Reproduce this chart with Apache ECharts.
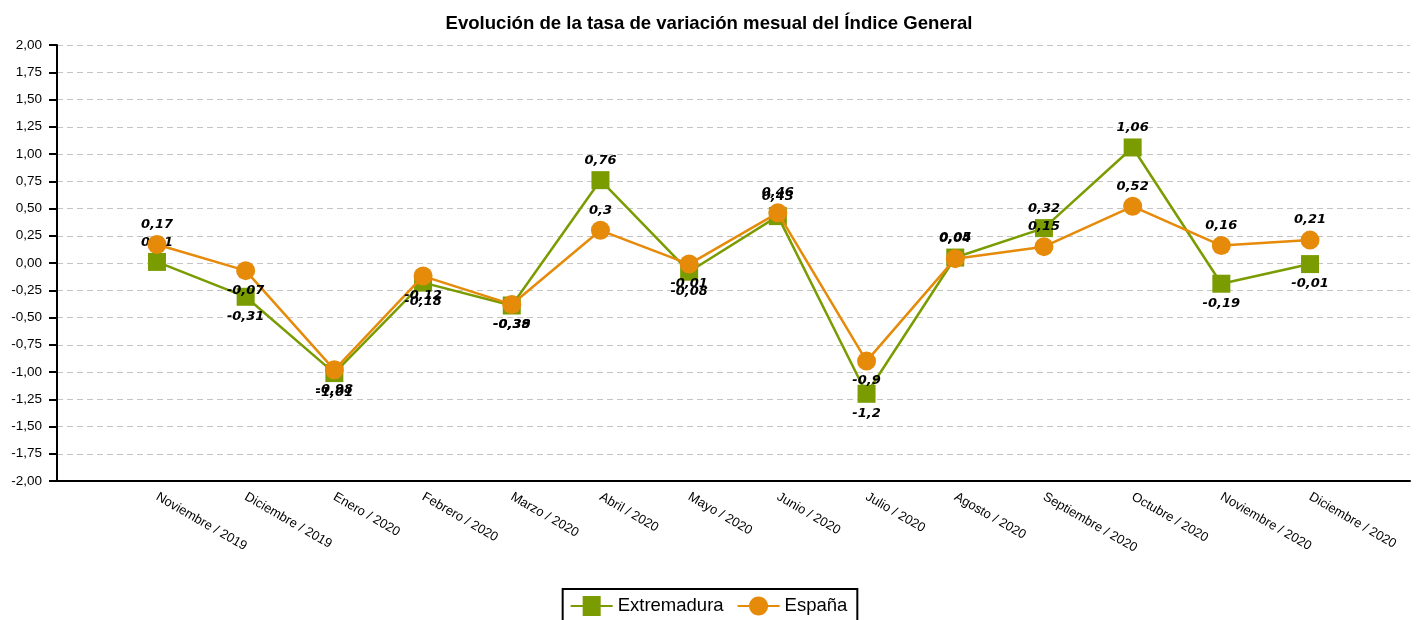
<!DOCTYPE html>
<html><head><meta charset="utf-8">
<script src="https://cdn.jsdelivr.net/npm/echarts@6/dist/echarts.min.js"></script>
<style>html,body{margin:0;padding:0;background:#fff}#c{width:1418px;height:620px}</style>
</head><body><div id="c"></div>
<script>
const categories = ['Noviembre / 2019','Diciembre / 2019','Enero / 2020','Febrero / 2020','Marzo / 2020','Abril / 2020','Mayo / 2020','Junio / 2020','Julio / 2020','Agosto / 2020','Septiembre / 2020','Octubre / 2020','Noviembre / 2020','Diciembre / 2020'];
const extremadura = [0.01,-0.31,-1.01,-0.18,-0.39,0.76,-0.08,0.43,-1.2,0.05,0.32,1.06,-0.19,-0.01];
const espana = [0.17,-0.07,-0.98,-0.12,-0.38,0.3,-0.01,0.46,-0.9,0.04,0.15,0.52,0.16,0.21];
const yTicks = {min:-2, max:2, interval:0.25};

const GREEN = '#7a9c00', ORANGE = '#e68a0a';
const fmt = v => String(v).replace('.', ',');
function build(arr){
  return arr.map((v,i)=>({value:[i,v], label:{position: v>=0?'top':'bottom'}}));
}
const ICON_SQ = 'path://M0,8 L12,8 L12,-1 L30,-1 L30,8 L42,8 L42,10 L30,10 L30,19 L12,19 L12,10 L0,10 Z';
const ICON_CI = 'path://M0,8 L42,8 L42,10 L0,10 Z M21,-0.5 C26.25,-0.5 30.5,3.75 30.5,9 C30.5,14.25 26.25,18.5 21,18.5 C15.75,18.5 11.5,14.25 11.5,9 C11.5,3.75 15.75,-0.5 21,-0.5 Z';
const labelStyle = {show:true, formatter:p=>fmt(p.value[1]), fontFamily:'DejaVu Sans', fontWeight:'bold', fontStyle:'italic', fontSize:13, color:'#000', distance:4};
const chart = echarts.init(document.getElementById('c'));
chart.setOption({
  animation:false,
  title:{text:'Evolución de la tasa de variación mesual del Índice General', left:'center', top:9, textStyle:{fontFamily:'Liberation Sans', fontSize:18.6, fontWeight:'bold', color:'#000'}},
  grid:{left:57, right:8, top:45, bottom:139},
  legend:{bottom:-10, left:'center', itemWidth:42, itemHeight:20, itemGap:14, borderColor:'#000', borderWidth:2, padding:[7,10,14,8],
    textStyle:{fontFamily:'Liberation Sans', fontSize:18.5, color:'#000'},
    itemStyle:{borderWidth:0},
    data:[{name:'Extremadura', icon:ICON_SQ},{name:'España', icon:ICON_CI}]},
  xAxis:{type:'value', min:-1.127, max:14.127, interval:1,
    axisLine:{show:true, onZero:false, lineStyle:{color:'#000', width:2}},
    axisTick:{show:false}, splitLine:{show:false},
    axisLabel:{rotate:-30, fontFamily:'Liberation Sans', fontSize:13, color:'#000', margin:15,
      formatter:v=>{const i=Math.round(v); return (Math.abs(v-i)<1e-6 && i>=0 && i<categories.length)?categories[i]:'';},
      customValues:categories.map((c,i)=>i)}
  },
  yAxis:{type:'value', min:yTicks.min, max:yTicks.max, interval:yTicks.interval,
    axisLine:{show:true, onZero:false, lineStyle:{color:'#000', width:2}},
    axisTick:{show:true, length:8, lineStyle:{color:'#000', width:2}},
    axisLabel:{formatter:v=>v.toFixed(2).replace('.',','), fontFamily:'Liberation Sans', fontSize:13.5, color:'#000', margin:15},
    splitLine:{show:true, lineStyle:{color:'#c4c4c4', type:[6,4], width:1}}
  },
  series:[
    {name:'Extremadura', type:'line', data:build(extremadura), symbol:'rect', symbolSize:18, color:GREEN,
      lineStyle:{color:GREEN, width:2.5}, itemStyle:{color:GREEN}, label:labelStyle, z:2},
    {name:'España', type:'line', data:build(espana), symbol:'circle', symbolSize:19, color:ORANGE,
      lineStyle:{color:ORANGE, width:2.5}, itemStyle:{color:ORANGE}, label:labelStyle, z:3}
  ]
});
</script></body></html>
